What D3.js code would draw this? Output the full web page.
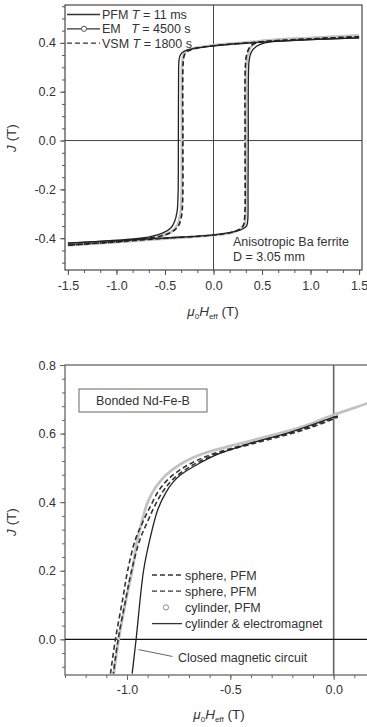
<!DOCTYPE html>
<html>
<head>
<meta charset="utf-8">
<script src="https://cdn.jsdelivr.net/npm/d3@7"></script>
<style>
  html, body { margin: 0; padding: 0; background: #fff; }
  svg text { font-family: "Liberation Sans", Arial, sans-serif; fill: #333; }
</style>
</head>
<body>
<div id="chart"></div>
<script>
// ---- top panel data: anisotropic Ba ferrite loops, [H (T), J (T)]
const pfmDown = [[1.5,0.42],[1.0,0.413],[0.5,0.403],[0.0,0.388],[-0.2,0.377],[-0.3,0.366],[-0.34,0.352],[-0.355,0.33],[-0.36,0.25],[-0.362,0.0],[-0.365,-0.22],[-0.375,-0.29],[-0.4,-0.33],[-0.44,-0.358],[-0.52,-0.378],[-0.64,-0.392],[-0.8,-0.402],[-1.0,-0.408],[-1.5,-0.42]];
const pfmUp = [[-1.5,-0.42],[-1.0,-0.41],[-0.5,-0.399],[0.0,-0.386],[0.2,-0.374],[0.3,-0.362],[0.34,-0.35],[0.352,-0.33],[0.356,-0.2],[0.358,0.0],[0.36,0.27],[0.368,0.33],[0.39,0.362],[0.44,0.385],[0.52,0.399],[0.7,0.407],[1.0,0.413],[1.5,0.42]];
const emDown = [[1.5,0.43],[1.0,0.42],[0.5,0.407],[0.0,0.39],[-0.2,0.378],[-0.28,0.366],[-0.31,0.35],[-0.322,0.32],[-0.326,0.0],[-0.33,-0.24],[-0.345,-0.31],[-0.375,-0.348],[-0.43,-0.372],[-0.55,-0.392],[-0.8,-0.408],[-1.0,-0.415],[-1.5,-0.428]];
const emUp = [[-1.5,-0.428],[-1.0,-0.416],[-0.5,-0.402],[0.0,-0.388],[0.2,-0.376],[0.28,-0.362],[0.315,-0.347],[0.33,-0.31],[0.334,0.0],[0.337,0.29],[0.35,0.345],[0.385,0.383],[0.45,0.403],[0.6,0.412],[1.0,0.42],[1.5,0.43]];
const vsmDown = [[1.5,0.425],[1.0,0.416],[0.5,0.404],[0.0,0.388],[-0.2,0.376],[-0.27,0.365],[-0.3,0.35],[-0.312,0.32],[-0.315,0.0],[-0.318,-0.25],[-0.33,-0.31],[-0.36,-0.348],[-0.42,-0.372],[-0.55,-0.392],[-0.8,-0.406],[-1.0,-0.414],[-1.5,-0.428]];
const vsmUp = [[-1.5,-0.428],[-1.0,-0.415],[-0.5,-0.4],[0.0,-0.387],[0.2,-0.375],[0.28,-0.36],[0.31,-0.345],[0.322,-0.31],[0.325,0.0],[0.328,0.3],[0.342,0.352],[0.38,0.386],[0.45,0.401],[0.6,0.408],[1.0,0.416],[1.5,0.425]];
const topXTicks = [-1.5, -1.0, -0.5, 0.0, 0.5, 1.0, 1.5];
const topYTicks = [-0.4, -0.2, 0.0, 0.2, 0.4];

// ---- bottom panel data: bonded Nd-Fe-B demagnetisation curves, [H (T), J (T)]
const sphere1 = [[-1.08,-0.1],[-1.056,0.0],[-1.02,0.12],[-0.997,0.2],[-0.96,0.29],[-0.925,0.34],[-0.885,0.39],[-0.845,0.435],[-0.795,0.47],[-0.71,0.507],[-0.61,0.535],[-0.5,0.556],[-0.4,0.572],[-0.3,0.588],[-0.2,0.604],[-0.1,0.623],[0.0,0.645],[0.02,0.65]];
const sphere2 = [[-1.066,-0.1],[-1.043,0.0],[-1.005,0.12],[-0.978,0.2],[-0.938,0.29],[-0.903,0.34],[-0.865,0.39],[-0.822,0.435],[-0.772,0.47],[-0.685,0.507],[-0.59,0.535],[-0.5,0.553],[-0.4,0.569],[-0.3,0.585],[-0.2,0.601],[-0.1,0.62],[0.0,0.643],[0.02,0.648]];
const cylPfm = [[-1.064,-0.1],[-1.04,0.0],[-1.0,0.13],[-0.975,0.2],[-0.95,0.29],[-0.925,0.35],[-0.9,0.4],[-0.86,0.445],[-0.81,0.48],[-0.73,0.515],[-0.63,0.542],[-0.5,0.564],[-0.4,0.579],[-0.3,0.595],[-0.2,0.611],[-0.1,0.631],[0.0,0.655],[0.1,0.675],[0.17,0.69]];
const cylEm = [[-0.975,-0.1],[-0.956,0.0],[-0.92,0.2],[-0.89,0.29],[-0.85,0.38],[-0.81,0.43],[-0.775,0.46],[-0.74,0.48],[-0.66,0.51],[-0.56,0.54],[-0.4,0.572],[-0.2,0.606],[0.0,0.648],[0.02,0.652]];
const botXTicks = [-1.0, -0.5, 0.0];
const botYTicks = [0.0, 0.2, 0.4, 0.6, 0.8];

const width = 367, height = 727;
const svg = d3.select('#chart').append('svg')
  .attr('width', width).attr('height', height);

// plain hyphen minus, like the original figure
const fmt = d => d3.format('.1f')(d).replace('\u2212', '-');

function drawAxes(g, x, y, xt, yt, xMinor, yMinor, frameColor, xPad) {
  const [x0, x1] = x.range();
  const [y0, y1] = y.range(); // y0 bottom, y1 top
  // minor ticks
  g.append('g').attr('transform', `translate(0,${y0})`)
    .call(d3.axisBottom(x).tickValues(xMinor).tickSize(3).tickFormat(''))
    .call(a => a.select('.domain').remove());
  g.append('g').attr('transform', `translate(${x0},0)`)
    .call(d3.axisLeft(y).tickValues(yMinor).tickSize(3).tickFormat(''))
    .call(a => a.select('.domain').remove());
  // major ticks
  g.append('g').attr('transform', `translate(0,${y0})`)
    .call(d3.axisBottom(x).tickValues(xt).tickSize(5).tickPadding(xPad).tickFormat(fmt))
    .call(a => a.select('.domain').remove())
    .call(a => a.selectAll('text').style('font-size', '12.5px'));
  g.append('g').attr('transform', `translate(${x0},0)`)
    .call(d3.axisLeft(y).tickValues(yt).tickSize(5).tickPadding(4).tickFormat(fmt))
    .call(a => a.select('.domain').remove())
    .call(a => a.selectAll('text').style('font-size', '12.5px'));
  g.selectAll('.tick line').attr('stroke', frameColor);
  g.append('rect')
    .attr('x', x0).attr('y', y1).attr('width', x1 - x0).attr('height', y0 - y1)
    .attr('fill', 'none').attr('stroke', frameColor).attr('stroke-width', 1.3);
}

function xLabel(g, cx, cy) {
  const t = g.append('text').attr('x', cx).attr('y', cy).attr('text-anchor', 'middle').style('font-size', '13.5px');
  t.append('tspan').attr('font-style', 'italic').text('μ');
  t.append('tspan').attr('dy', 3).style('font-size', '8px').text('0');
  t.append('tspan').attr('dy', -3).attr('font-style', 'italic').text('H');
  t.append('tspan').attr('dy', 3).style('font-size', '8px').text('eff');
  t.append('tspan').attr('dy', -3).text(' (T)');
}
function yLabel(g, cx, cy) {
  const t = g.append('text').attr('transform', `translate(${cx},${cy}) rotate(-90)`)
    .attr('text-anchor', 'middle').style('font-size', '13.5px');
  t.append('tspan').attr('font-style', 'italic').text('J');
  t.append('tspan').text(' (T)');
}

const line = (x, y) => d3.line().x(d => x(d[0])).y(d => y(d[1])).curve(d3.curveCatmullRom.alpha(0.5));

// ================= top panel =================
{
  const x = d3.scaleLinear().domain([-1.53, 1.53]).range([65, 362]);
  const y = d3.scaleLinear().domain([-0.53, 0.555]).range([270, 5]);
  const g = svg.append('g');
  const xMinor = d3.range(-1.5, 1.51, 0.5 / 3);
  const yMinor = d3.range(-0.5, 0.551, 0.05);
  drawAxes(g, x, y, topXTicks, topYTicks, xMinor, yMinor, '#555', 6);

  g.append('line').attr('x1', x(0)).attr('x2', x(0)).attr('y1', y.range()[0]).attr('y2', y.range()[1])
    .attr('stroke', '#444').attr('stroke-width', 1);
  g.append('line').attr('x1', x.range()[0]).attr('x2', x.range()[1]).attr('y1', y(0)).attr('y2', y(0))
    .attr('stroke', '#444').attr('stroke-width', 1);

  const ln = line(x, y);
  [emDown, emUp].forEach(d => g.append('path').attr('d', ln(d))
    .attr('fill', 'none').attr('stroke', '#c4c4c4').attr('stroke-width', 2.6));
  [pfmDown, pfmUp].forEach(d => g.append('path').attr('d', ln(d))
    .attr('fill', 'none').attr('stroke', '#222').attr('stroke-width', 1.3));
  [vsmDown, vsmUp].forEach(d => g.append('path').attr('d', ln(d))
    .attr('fill', 'none').attr('stroke', '#222').attr('stroke-width', 1.6).attr('stroke-dasharray', '5,3'));

  // legend
  const leg = g.append('g');
  const rows = [
    { name: 'PFM', pad: ' ', T: '11 ms', dash: null, marker: false },
    { name: 'EM', pad: '\u00a0\u00a0\u00a0', T: '4500 s', dash: null, marker: true },
    { name: 'VSM', pad: ' ', T: '1800 s', dash: '5,3', marker: false }
  ];
  rows.forEach((r, i) => {
    const yy = 14.5 + i * 14.3;
    leg.append('line').attr('x1', 67).attr('x2', 100).attr('y1', yy).attr('y2', yy)
      .attr('stroke', '#333').attr('stroke-width', 1.3).attr('stroke-dasharray', r.dash);
    if (r.marker) leg.append('circle').attr('cx', 84).attr('cy', yy).attr('r', 2.6)
      .attr('fill', '#fff').attr('stroke', '#555');
    const t = leg.append('text').attr('x', 102).attr('y', yy + 4.5).style('font-size', '12.5px');
    t.append('tspan').text(r.name + r.pad);
    t.append('tspan').attr('font-style', 'italic').text('T');
    t.append('tspan').text(' = ' + r.T);
  });

  g.append('text').attr('x', 233).attr('y', 246).style('font-size', '12.5px').text('Anisotropic Ba ferrite');
  g.append('text').attr('x', 233).attr('y', 261).style('font-size', '12.5px').text('D = 3.05 mm');

  xLabel(g, 213, 316);
  yLabel(g, 16, 138);
}

// ================= bottom panel =================
{
  const x = d3.scaleLinear().domain([-1.3, 0.2]).range([65, 375]);
  const y = d3.scaleLinear().domain([-0.104, 0.8]).range([675, 365]);
  const g = svg.append('g');
  const xMinor = d3.range(-1.3, 0.21, 0.1);
  const yMinor = d3.range(-0.08, 0.81, 0.04);
  drawAxes(g, x, y, botXTicks, botYTicks, xMinor, yMinor, '#666', 5);

  g.append('line').attr('x1', x(0)).attr('x2', x(0)).attr('y1', y.range()[0]).attr('y2', y.range()[1])
    .attr('stroke', '#666').attr('stroke-width', 1.6);
  g.append('line').attr('x1', x.range()[0]).attr('x2', x.range()[1]).attr('y1', y(0)).attr('y2', y(0))
    .attr('stroke', '#111').attr('stroke-width', 1.2);

  svg.append('clipPath').attr('id', 'clipB').append('rect')
    .attr('x', 65).attr('y', 365).attr('width', 310).attr('height', 310);
  const pg = g.append('g').attr('clip-path', 'url(#clipB)');
  const ln = line(x, y);
  pg.append('path').attr('d', ln(cylPfm)).attr('fill', 'none').attr('stroke', '#c2c2c2').attr('stroke-width', 2.8);
  pg.append('path').attr('d', ln(sphere1)).attr('fill', 'none').attr('stroke', '#333')
    .attr('stroke-width', 1.6).attr('stroke-dasharray', '5,3');
  pg.append('path').attr('d', ln(sphere2)).attr('fill', 'none').attr('stroke', '#333')
    .attr('stroke-width', 1.6).attr('stroke-dasharray', '5,3').attr('stroke-dashoffset', 3);
  pg.append('path').attr('d', ln(cylEm)).attr('fill', 'none').attr('stroke', '#222').attr('stroke-width', 1.3);

  // title box
  g.append('rect').attr('x', 79).attr('y', 389).attr('width', 128).attr('height', 23)
    .attr('fill', '#fff').attr('stroke', '#666').attr('stroke-width', 1);
  g.append('text').attr('x', 143).attr('y', 405).attr('text-anchor', 'middle').style('font-size', '12.5px').text('Bonded Nd-Fe-B');

  // legend
  const items = [
    { label: 'sphere, PFM', kind: 'dash' },
    { label: 'sphere, PFM', kind: 'dash' },
    { label: 'cylinder, PFM', kind: 'circle' },
    { label: 'cylinder & electromagnet', kind: 'solid' }
  ];
  items.forEach((it, i) => {
    const yy = 575 + i * 16.2;
    if (it.kind === 'circle') {
      g.append('circle').attr('cx', 166).attr('cy', yy).attr('r', 2.6).attr('fill', 'none').attr('stroke', '#888');
    } else {
      g.append('line').attr('x1', 152).attr('x2', 182).attr('y1', yy).attr('y2', yy)
        .attr('stroke', '#333').attr('stroke-width', 1.3)
        .attr('stroke-dasharray', it.kind === 'dash' ? '5,3' : null);
    }
    g.append('text').attr('x', 185).attr('y', yy + 4.5).style('font-size', '12.5px').text(it.label);
  });

  // annotation
  g.append('line').attr('x1', x(-0.944)).attr('y1', y(-0.03)).attr('x2', x(-0.78)).attr('y2', y(-0.05))
    .attr('stroke', '#666').attr('stroke-width', 1);
  g.append('text').attr('x', 178).attr('y', 662).style('font-size', '12.5px').text('Closed magnetic circuit');

  xLabel(g, 219, 719);
  yLabel(g, 16, 522);
}
</script>
</body>
</html>
